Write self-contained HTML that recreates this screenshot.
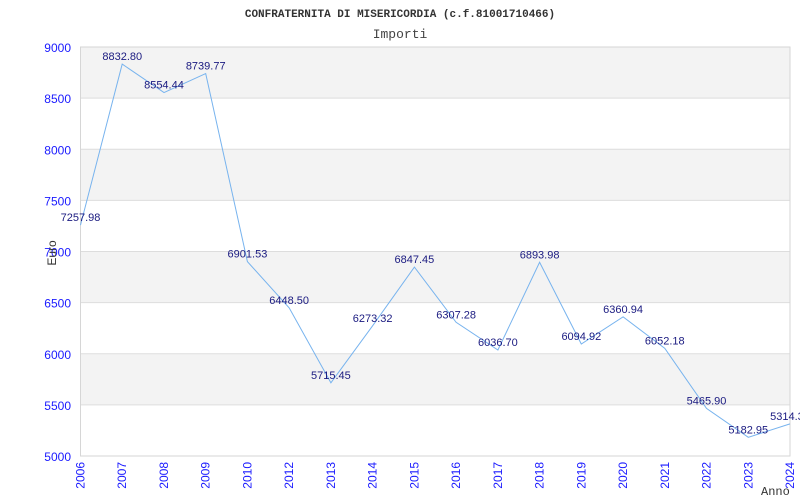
<!DOCTYPE html>
<html><head><meta charset="utf-8"><style>
html,body{margin:0;padding:0;background:#fff;}
svg{display:block;}
</style></head><body>
<svg id="chart" width="800" height="500" xmlns="http://www.w3.org/2000/svg">
<text x="400" y="17" text-anchor="middle" font-family="Liberation Mono, monospace" font-weight="bold" font-size="11" fill="#333">CONFRATERNITA DI MISERICORDIA (c.f.81001710466)</text>
<text x="400" y="38" text-anchor="middle" font-family="Liberation Mono, monospace" font-size="13" fill="#444">Importi</text>
<g id="bands"></g><g id="grid"></g><g id="axes"></g><g id="series"></g><g id="labels"></g>
<text transform="translate(56,253) rotate(-90)" text-anchor="middle" font-family="Liberation Sans, sans-serif" font-size="12" fill="#333">Euro</text>
<text x="761" y="495" font-family="Liberation Mono, monospace" font-size="12" fill="#333">Anno</text>
</svg>
<script>
const categories=["2006","2007","2008","2009","2010","2012","2013","2014","2015","2016","2017","2018","2019","2020","2021","2022","2023","2024"];
const values=[7257.98,8832.80,8554.44,8739.77,6901.53,6448.50,5715.45,6273.32,6847.45,6307.28,6036.70,6893.98,6094.92,6360.94,6052.18,5465.90,5182.95,5314.30];
const valueLabels=["7257.98","8832.80","8554.44","8739.77","6901.53","6448.50","5715.45","6273.32","6847.45","6307.28","6036.70","6893.98","6094.92","6360.94","6052.18","5465.90","5182.95","5314.30"];
const yTicks=[5000,5500,6000,6500,7000,7500,8000,8500,9000];
const L=80.5,R=790,T=47,B=456,yMin=5000,yMax=9000;
const NS="http://www.w3.org/2000/svg";
const x=i=>L+i*(R-L)/(categories.length-1);
const y=v=>B-(v-yMin)/(yMax-yMin)*(B-T);
function mk(tag,attrs,parent,txt){const e=document.createElementNS(NS,tag);for(const k in attrs)e.setAttribute(k,attrs[k]);if(txt!==undefined)e.textContent=txt;document.getElementById(parent).appendChild(e);return e;}
for(let k=0;k<yTicks.length-1;k++){
  if(k%2===1){const r=mk('rect',{x:L,y:y(yTicks[k+1]),width:R-L,height:y(yTicks[k])-y(yTicks[k+1]),fill:'#f3f3f3'},'bands');
  
  }
}
yTicks.forEach(t=>{
  const g=mk('line',{x1:L,x2:R,y1:y(t),y2:y(t),stroke:'#dddddd','stroke-width':1},'grid');
  
  
  const tl=mk('text',{x:71,y:y(t)+5,'text-anchor':'end','font-family':'Liberation Sans, sans-serif','font-size':12,fill:'#1a1aff'},'axes',String(t));
  
  
});
const ax=mk('rect',{x:L,y:T,width:R-L,height:B-T,fill:'none',stroke:'#d6d6d6','stroke-width':1},'axes');


categories.forEach((c,i)=>{
  const tl=mk('text',{transform:`translate(${x(i)+4},${B+6}) rotate(-90)`,'text-anchor':'end','font-family':'Liberation Sans, sans-serif','font-size':12,fill:'#1a1aff'},'axes',c);
  
  
});
const pts=values.map((v,i)=>x(i).toFixed(1)+','+y(v).toFixed(1)).join(' ');
const pl=mk('polyline',{points:pts,fill:'none',stroke:'#77b3ee','stroke-width':1},'series');


values.forEach((v,i)=>{
  const t=mk('text',{x:x(i),y:y(v)-4,'text-anchor':'middle','font-family':'Liberation Sans, sans-serif','font-size':11,fill:'#1a1a80'},'labels',valueLabels[i]);
  
  
});
</script>
</body></html>
